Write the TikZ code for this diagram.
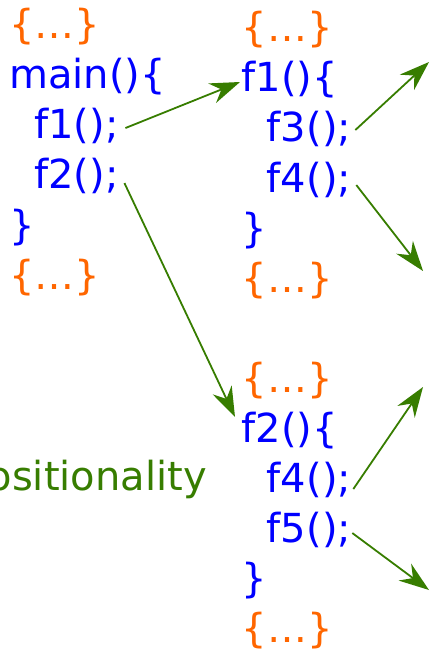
\documentclass[tikz,border=0pt]{standalone}
\usepackage{fontspec}
\setmainfont{DejaVu Sans}
\usetikzlibrary{arrows.meta}
\definecolor{codeblue}{RGB}{0,0,255}
\definecolor{dotsorange}{RGB}{255,102,0}
\definecolor{callgreen}{RGB}{55,125,0}
\begin{document}
\begin{tikzpicture}[x=1pt,y=-1pt,
  codeline/.style={anchor=base west,inner sep=0pt,text=codeblue,font=\fontsize{40}{48}\selectfont},
  dotsline/.style={codeline,text=dotsorange},
  call/.style={draw=callgreen,line width=1.8pt,-{Stealth[length=30pt,width=21pt,inset=10pt]}},
  label/.style={anchor=base east,inner sep=0pt,text=callgreen,font=\fontsize{40}{48}\selectfont}]
\useasboundingbox (0,0) rectangle (432,655);
\clip (0,0) rectangle (432,655);
\newcommand{\ind}{\hspace*{0.63em}}
% left column
\node[dotsline] (la) at (9,39) {\{…\}};
\node[codeline] (lb) at (9,89) {main()\{};
\node[codeline] (lc) at (9,139) {\ind f1();};
\node[codeline] (ld) at (9,189) {\ind f2();};
\node[codeline] (le) at (9,239) {\}};
\node[dotsline] (lf) at (9,289) {\{…\}};
% right upper column
\node[dotsline] (ua) at (241.5,42) {\{…\}};
\node[codeline] (ub) at (241.5,92) {f1()\{};
\node[codeline] (uc) at (241.5,142) {\ind f3();};
\node[codeline] (ud) at (241.5,192) {\ind f4();};
\node[codeline] (ue) at (241.5,242) {\}};
\node[dotsline] (uf) at (241.5,292) {\{…\}};
% right lower column
\node[dotsline] (da) at (241.5,392) {\{…\}};
\node[codeline] (db) at (241.5,442) {f2()\{};
\node[codeline] (dc) at (241.5,492) {\ind f4();};
\node[codeline] (dd) at (241.5,542) {\ind f5();};
\node[codeline] (de) at (241.5,592) {\}};
\node[dotsline] (df) at (241.5,642) {\{…\}};
% label
\node[label] (comp) at (207,490) {compositionality};
% arrow tips
\coordinate (t1) at (240,82);
\coordinate (t2) at (235,417);
\coordinate (t3) at (429,62);
\coordinate (t4) at (423,271);
\coordinate (t5) at (423,387);
\coordinate (t6) at (429,590);
% arrows
\draw[call] ([shift={(6.6,1.6)}]lc.east) -- (t1);
\draw[call] ([shift={(5.6,6.6)}]ld.east) -- (t2);
\draw[call] ([shift={(4,0.6)}]uc.east) -- (t3);
\draw[call] ([shift={(5,5.6)}]ud.east) -- (t4);
\draw[call] ([shift={(2,9.6)}]dc.east) -- (t5);
\draw[call] ([shift={(1,3.6)}]dd.east) -- (t6);
\end{tikzpicture}
\end{document}
